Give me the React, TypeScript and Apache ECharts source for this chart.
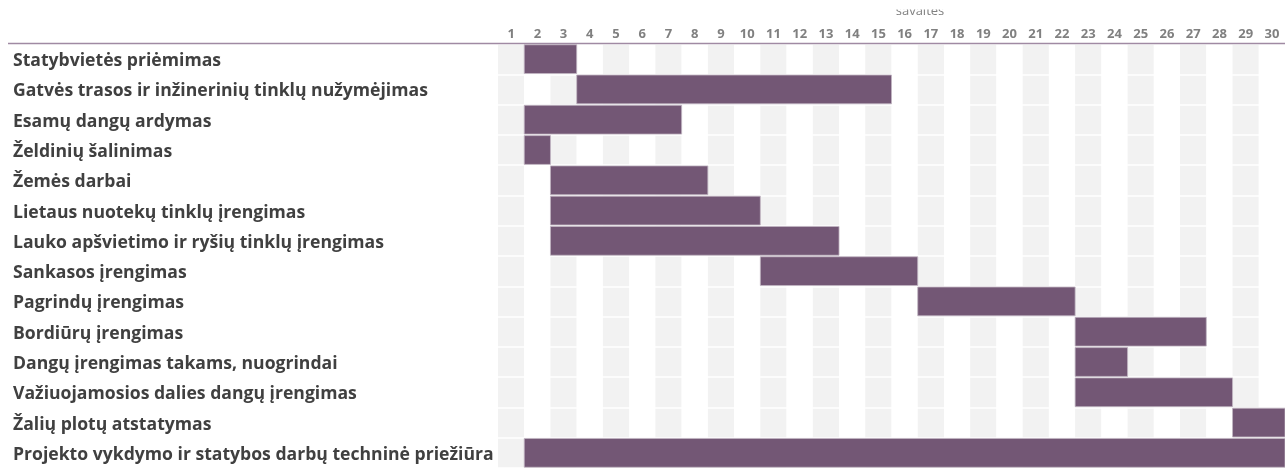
import React, { useEffect, useRef } from "react";
import * as echarts from "echarts";

const weeks = Array.from({ length: 30 }, (_, i) => String(i + 1));
const tasks = [
  "Statybvietės priėmimas",
  "Gatvės trasos ir inžinerinių tinklų nužymėjimas",
  "Esamų dangų ardymas",
  "Želdinių šalinimas",
  "Žemės darbai",
  "Lietaus nuotekų tinklų įrengimas",
  "Lauko apšvietimo ir ryšių tinklų įrengimas",
  "Sankasos įrengimas",
  "Pagrindų įrengimas",
  "Bordiūrų įrengimas",
  "Dangų įrengimas takams, nuogrindai",
  "Važiuojamosios dalies dangų įrengimas",
  "Žalių plotų atstatymas",
  "Projekto vykdymo ir statybos darbų techninė priežiūra",
];
const startWeek = [2, 4, 2, 2, 3, 3, 3, 11, 17, 23, 23, 23, 29, 2];
const endWeek = [3, 15, 7, 2, 8, 10, 13, 16, 22, 27, 24, 28, 30, 30];

export default function App() {
  const ref = useRef<HTMLDivElement>(null);
  useEffect(() => {
    if (!ref.current) return;
    const chart = echarts.init(ref.current, undefined, { renderer: "svg" });
    const data = tasks.map((_, i) => [startWeek[i] - 1, endWeek[i] - 1, i]);
    chart.setOption({
      animation: false,
      grid: { left: 498, top: 44, width: 789, height: 427, containLabel: false },
      xAxis: {
        type: "category",
        position: "top",
        data: weeks,
        z: 0,
        axisLine: { show: false },
        axisTick: { show: false },
        axisLabel: {
          interval: 0,
          color: "#808080",
          fontWeight: "bold",
          fontSize: 13,
          fontFamily: "Open Sans",
          margin: 5,
        },
        splitArea: { show: true, interval: 0, areaStyle: { color: ["#f2f2f2", "#ffffff"] } },
        splitLine: { show: false },
      },
      yAxis: {
        type: "category",
        inverse: true,
        data: tasks,
        z: 1,
        axisLine: { show: false },
        axisTick: { show: false },
        axisLabel: {
          interval: 0,
          align: "left",
          margin: 485,
          color: "#404040",
          fontWeight: "bold",
          fontSize: 17.6,
          fontFamily: "Open Sans",
          verticalAlign: "middle",
          padding: [4, 0, 0, 0],
        },
        splitLine: { show: true, interval: 0, lineStyle: { color: "#ffffff", width: 1.5 } },
      },
      series: [
        {
          type: "custom",
          z: 5,
          encode: { x: [0, 1], y: 2 },
          data,
          renderItem: (params: any, api: any) => {
            const s = api.value(0);
            const e = api.value(1);
            const r = api.value(2);
            const p0 = api.coord([s, r]);
            const p1 = api.coord([e, r]);
            const sz = api.size([1, 1]);
            const cw = sz[0];
            const rh = sz[1];
            return {
              type: "rect",
              shape: {
                x: p0[0] - cw / 2,
                y: p0[1] - rh / 2 + 0.75,
                width: p1[0] - p0[0] + cw,
                height: rh - 1.5,
              },
              style: { fill: "#735775", stroke: "#c2b6c3", lineWidth: 0.8 },
            };
          },
        },
      ],
      graphic: [
        {
          type: "line",
          shape: { x1: 8, y1: 43.5, x2: 1285, y2: 43.5 },
          style: { stroke: "#a08aa3", lineWidth: 1.5 },
          z: 10,
        },
        {
          type: "text",
          x: 920,
          y: 16,
          style: {
            text: "savaitės",
            fill: "#808080",
            fontSize: 13,
            fontFamily: "Open Sans",
            textAlign: "center",
            textVerticalAlign: "bottom",
          },
          z: 10,
        },
        {
          type: "rect",
          shape: { x: 850, y: 0, width: 140, height: 9.5 },
          style: { fill: "#ffffff" },
          z: 11,
        },
      ],
    });
    return () => chart.dispose();
  }, []);
  return (
    <div
      ref={ref}
      style={{ position: "fixed", left: 0, top: 0, width: 1285, height: 468 }}
    />
  );
}
